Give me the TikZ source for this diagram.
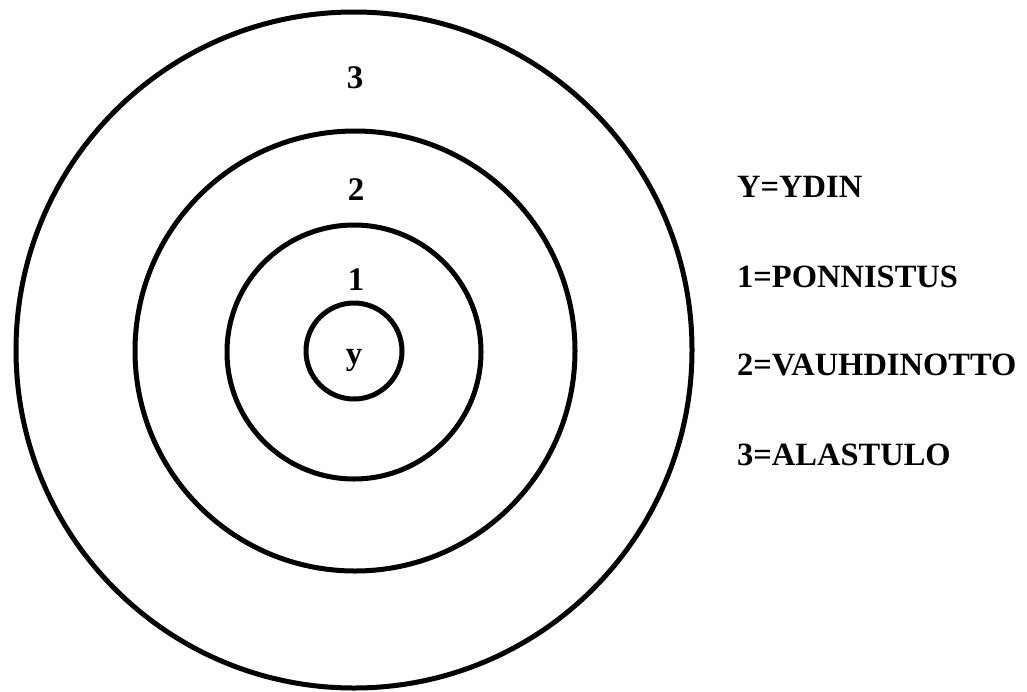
\documentclass[tikz,border=0pt]{standalone}
\usepackage{fontspec}
\setmainfont{Liberation Serif}
\begin{document}
\begin{tikzpicture}[x=1pt,y=-1pt,
  ring/.style={draw=black,line width=5pt},
  lbl/.style={font=\fontsize{33}{33}\selectfont\bfseries,inner sep=0pt,anchor=base},
  leg/.style={font=\fontsize{32.5}{33}\selectfont\bfseries,inner sep=0pt,anchor=base west}]
\useasboundingbox (0,0) rectangle (1027,691);
\coordinate (c) at (354,350);
\draw[ring] (c) circle[radius=338];
\draw[ring] (355,351) circle[radius=220];
\draw[ring] (354,352) circle[radius=127];
\draw[ring] (354,351) circle[radius=48];
\node[lbl] (n3) at (355,88) {3};
\node[lbl] (n2) at (356,200) {2};
\node[lbl] (n1) at (356,290) {1};
\node[lbl] (ny) at (354,364) {y};
\node[leg] (l0) at (737,197) {Y=YDIN};
\node[leg] (l1) at (737,287) {1=PONNISTUS};
\node[leg] (l2) at (737,375) {2=VAUHDINOTTO};
\node[leg] (l3) at (737,465) {3=ALASTULO};
\end{tikzpicture}
\end{document}
